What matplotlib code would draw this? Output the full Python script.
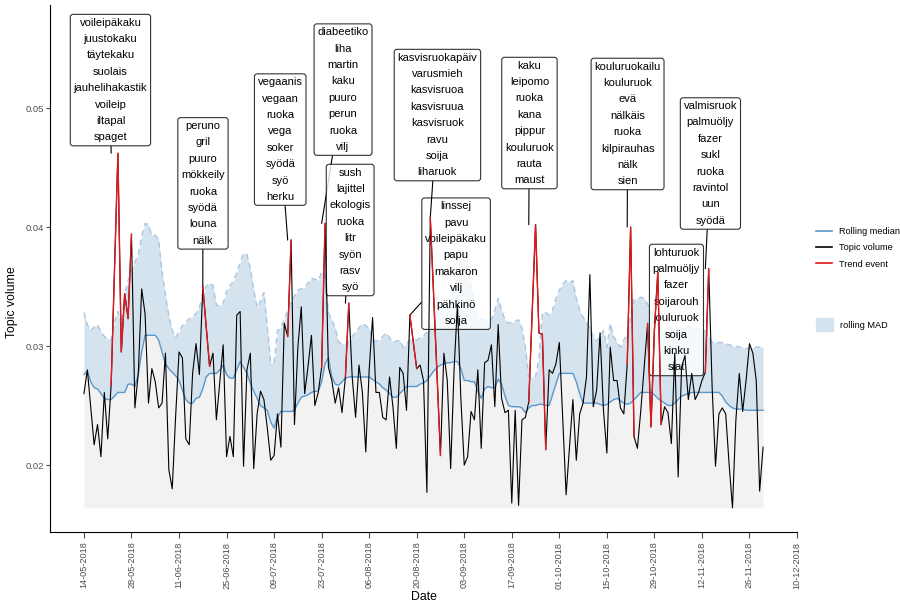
import matplotlib
matplotlib.use("Agg")
import matplotlib.pyplot as plt
import matplotlib.dates as mdates
from matplotlib.lines import Line2D
from matplotlib.patches import Patch
import numpy as np
import pandas as pd

plt.rcParams['font.family'] = ['Liberation Sans', 'DejaVu Sans']

start_date = '2018-05-14'

volume = [
    0.0260, 0.0280, 0.0249, 0.0217, 0.0234, 0.0207, 0.0261, 0.0222, 0.0267, 0.0364,
    0.0462, 0.0295, 0.0344, 0.0323, 0.0394, 0.0248, 0.0277, 0.0348, 0.0327, 0.0252,
    0.0281, 0.0270, 0.0248, 0.0252, 0.0294, 0.0196, 0.0180, 0.0241, 0.0295, 0.0290,
    0.0222, 0.0217, 0.0277, 0.0302, 0.0276, 0.0350, 0.0316, 0.0283, 0.0294, 0.0238,
    0.0269, 0.0301, 0.0207, 0.0224, 0.0207, 0.0326, 0.0329, 0.0199, 0.0280, 0.0294,
    0.0197, 0.0243, 0.0262, 0.0255, 0.0231, 0.0204, 0.0208, 0.0243, 0.0215, 0.0319,
    0.0308, 0.0389, 0.0234, 0.0299, 0.0333, 0.0260, 0.0283, 0.0309, 0.0250, 0.0261,
    0.0282, 0.0403, 0.0282, 0.0271, 0.0252, 0.0265, 0.0244, 0.0274, 0.0336, 0.0274,
    0.0240, 0.0284, 0.0261, 0.0211, 0.0280, 0.0324, 0.0261, 0.0261, 0.0240, 0.0238,
    0.0274, 0.0249, 0.0214, 0.0282, 0.0277, 0.0246, 0.0326, 0.0303, 0.0281, 0.0284,
    0.0271, 0.0177, 0.0408, 0.0342, 0.0275, 0.0208, 0.0294, 0.0271, 0.0197, 0.0280,
    0.0335, 0.0256, 0.0200, 0.0207, 0.0245, 0.0238, 0.0280, 0.0214, 0.0286, 0.0288,
    0.0301, 0.0249, 0.0318, 0.0256, 0.0244, 0.0246, 0.0168, 0.0246, 0.0166, 0.0238,
    0.0240, 0.0253, 0.0328, 0.0402, 0.0311, 0.0310, 0.0213, 0.0280, 0.0277, 0.0285,
    0.0303, 0.0238, 0.0175, 0.0215, 0.0255, 0.0204, 0.0243, 0.0252, 0.0274, 0.0360,
    0.0249, 0.0263, 0.0311, 0.0246, 0.0210, 0.0299, 0.0271, 0.0271, 0.0248, 0.0243,
    0.0285, 0.0400, 0.0224, 0.0214, 0.0246, 0.0283, 0.0319, 0.0232, 0.0313, 0.0362,
    0.0234, 0.0249, 0.0244, 0.0218, 0.0294, 0.0190, 0.0282, 0.0292, 0.0255, 0.0277,
    0.0255, 0.0261, 0.0271, 0.0278, 0.0365, 0.0266, 0.0199, 0.0243, 0.0248, 0.0243,
    0.0201, 0.0164, 0.0238, 0.0277, 0.0245, 0.0271, 0.0302, 0.0294, 0.0271, 0.0178,
    0.0215,
]

rolling_median = [
    0.0276, 0.0279, 0.0270, 0.0265, 0.0264, 0.0260, 0.0256, 0.0255, 0.0255, 0.0258,
    0.0261, 0.0261, 0.0261, 0.0268, 0.0268, 0.0266, 0.0276, 0.0295, 0.0309, 0.0309,
    0.0309, 0.0309, 0.0305, 0.0295, 0.0285, 0.0281, 0.0278, 0.0275, 0.0271, 0.0263,
    0.0255, 0.0252, 0.0252, 0.0256, 0.0257, 0.0264, 0.0274, 0.0277, 0.0277, 0.0277,
    0.0280, 0.0284, 0.0276, 0.0273, 0.0273, 0.0280, 0.0287, 0.0282, 0.0277, 0.0269,
    0.0262, 0.0256, 0.0250, 0.0248, 0.0246, 0.0236, 0.0231, 0.0240, 0.0245, 0.0245,
    0.0245, 0.0245, 0.0246, 0.0252, 0.0257, 0.0258, 0.0259, 0.0261, 0.0262, 0.0262,
    0.0270, 0.0285, 0.0290, 0.0274, 0.0268, 0.0267, 0.0270, 0.0273, 0.0274, 0.0274,
    0.0274, 0.0274, 0.0274, 0.0274, 0.0274, 0.0272, 0.0270, 0.0268, 0.0265, 0.0263,
    0.0260, 0.0257, 0.0257, 0.0260, 0.0263, 0.0266, 0.0266, 0.0266, 0.0266, 0.0268,
    0.0269, 0.0271, 0.0275, 0.0279, 0.0282, 0.0284, 0.0285, 0.0286, 0.0286, 0.0287,
    0.0287, 0.0281, 0.0271, 0.0271, 0.0270, 0.0270, 0.0262, 0.0256, 0.0264, 0.0266,
    0.0265, 0.0265, 0.0272, 0.0268, 0.0258, 0.0250, 0.0249, 0.0249, 0.0249, 0.0248,
    0.0244, 0.0248, 0.0250, 0.0250, 0.0251, 0.0251, 0.0250, 0.0250, 0.0259, 0.0268,
    0.0277, 0.0277, 0.0277, 0.0277, 0.0277, 0.0270, 0.0260, 0.0252, 0.0252, 0.0252,
    0.0252, 0.0252, 0.0251, 0.0250, 0.0251, 0.0253, 0.0255, 0.0256, 0.0254, 0.0252,
    0.0251, 0.0252, 0.0255, 0.0258, 0.0261, 0.0261, 0.0261, 0.0261, 0.0259, 0.0256,
    0.0254, 0.0252, 0.0250, 0.0250, 0.0252, 0.0255, 0.0258, 0.0259, 0.0260, 0.0261,
    0.0261, 0.0261, 0.0261, 0.0261, 0.0261, 0.0261, 0.0261, 0.0261, 0.0258, 0.0253,
    0.0250, 0.0248, 0.0247, 0.0247, 0.0247, 0.0246, 0.0246, 0.0246, 0.0246, 0.0246,
    0.0246,
]

mad_upper = [
    0.0328, 0.0318, 0.0313, 0.0316, 0.0318, 0.0312, 0.0308, 0.0306, 0.0305, 0.0320,
    0.0329, 0.0318, 0.0343, 0.0355, 0.0363, 0.0370, 0.0377, 0.0392, 0.0403, 0.0402,
    0.0393, 0.0393, 0.0390, 0.0362, 0.0343, 0.0325, 0.0313, 0.0307, 0.0312, 0.0317,
    0.0320, 0.0323, 0.0325, 0.0327, 0.0333, 0.0341, 0.0350, 0.0353, 0.0351, 0.0334,
    0.0334, 0.0336, 0.0346, 0.0351, 0.0354, 0.0362, 0.0370, 0.0378, 0.0377, 0.0365,
    0.0347, 0.0332, 0.0338, 0.0345, 0.0316, 0.0286, 0.0286, 0.0313, 0.0316, 0.0322,
    0.0330, 0.0337, 0.0342, 0.0347, 0.0348, 0.0349, 0.0353, 0.0357, 0.0356, 0.0355,
    0.0362, 0.0360, 0.0328, 0.0322, 0.0315, 0.0303, 0.0302, 0.0301, 0.0304, 0.0308,
    0.0312, 0.0315, 0.0319, 0.0317, 0.0315, 0.0305, 0.0304, 0.0305, 0.0308, 0.0311,
    0.0307, 0.0303, 0.0304, 0.0305, 0.0299, 0.0302, 0.0305, 0.0305, 0.0305, 0.0307,
    0.0308, 0.0312, 0.0316, 0.0328, 0.0341, 0.0335, 0.0329, 0.0330, 0.0340, 0.0347,
    0.0360, 0.0372, 0.0380, 0.0370, 0.0350, 0.0333, 0.0324, 0.0323, 0.0322, 0.0322,
    0.0322, 0.0330, 0.0340, 0.0330, 0.0322, 0.0319, 0.0320, 0.0321, 0.0322, 0.0315,
    0.0299, 0.0274, 0.0274, 0.0274, 0.0290, 0.0328, 0.0328, 0.0326, 0.0330, 0.0340,
    0.0347, 0.0352, 0.0355, 0.0353, 0.0355, 0.0340, 0.0330, 0.0324, 0.0320, 0.0315,
    0.0308, 0.0304, 0.0308, 0.0313, 0.0299, 0.0319, 0.0308, 0.0303, 0.0299, 0.0305,
    0.0310, 0.0325, 0.0339, 0.0340, 0.0341, 0.0340, 0.0335, 0.0330, 0.0325, 0.0318,
    0.0313, 0.0313, 0.0315, 0.0315, 0.0315, 0.0315, 0.0315, 0.0316, 0.0316, 0.0316,
    0.0315, 0.0315, 0.0314, 0.0313, 0.0308, 0.0303, 0.0303, 0.0303, 0.0303, 0.0302,
    0.0301, 0.0300, 0.0300, 0.0299, 0.0299, 0.0298, 0.0298, 0.0299, 0.0299, 0.0299,
    0.0299,
]

# trend events: first and last day index (inclusive)
event_start = [8, 35, 60, 70, 77, 96, 102, 131, 160, 166, 183]
event_end = [14, 37, 61, 71, 78, 98, 105, 136, 162, 170, 184]

event_words = [
    ['voileipäkaku', 'juustokaku', 'täytekaku', 'suolais', 'jauhelihakastik', 'voileip', 'iltapal', 'spaget'],
    ['peruno', 'gril', 'puuro', 'mökkeily', 'ruoka', 'syödä', 'louna', 'nälk'],
    ['vegaanis', 'vegaan', 'ruoka', 'vega', 'soker', 'syödä', 'syö', 'herku'],
    ['diabeetiko', 'liha', 'martin', 'kaku', 'puuro', 'perun', 'ruoka', 'vilj'],
    ['sush', 'lajittel', 'ekologis', 'ruoka', 'litr', 'syön', 'rasv', 'syö'],
    ['linssej', 'pavu', 'voileipäkaku', 'papu', 'makaron', 'vilj', 'pähkinö', 'soija'],
    ['kasvisruokapäiv', 'varusmieh', 'kasvisruoa', 'kasvisruua', 'kasvisruok', 'ravu', 'soija', 'liharuok'],
    ['kaku', 'leipomo', 'ruoka', 'kana', 'pippur', 'kouluruok', 'rauta', 'maust'],
    ['kouluruokailu', 'kouluruok', 'evä', 'nälkäis', 'ruoka', 'kilpirauhas', 'nälk', 'sien'],
    ['lohturuok', 'palmuöljy', 'fazer', 'soijarouh', 'jouluruok', 'soija', 'kinku', 'siat'],
    ['valmisruok', 'palmuöljy', 'fazer', 'sukl', 'ruoka', 'ravintol', 'uun', 'syödä'],
]

# label box centres (days after start, value) - layout only
label_x = [7.8, 35.05, 57.8, 76.3, 78.4, 109.6, 104.1, 131.2, 160.1, 174.5, 184.5]
label_y = [0.05235, 0.04367, 0.04735, 0.05155, 0.03975, 0.03692, 0.04941, 0.04874, 0.04866, 0.03303, 0.04534]
label_pointer = [True, True, True, True, True, True, True, True, True, False, True]

dates = pd.date_range(start_date, periods=len(volume), freq='D')
vol = np.array(volume)
med = np.array(rolling_median)
upp = np.array(mad_upper)

blue = '#5b97c9'
red = '#e0181b'
band = '#d5e3ef'

fig = plt.figure(figsize=(9, 6.04), dpi=100)
ax = fig.add_axes([50 / 900, 1 - 532 / 604, 747 / 900, 527 / 604])

ax.fill_between(dates, vol.min(), med, color='#f2f2f2', lw=0, zorder=1)
ax.fill_between(dates, med, upp, color=band, lw=0, zorder=1)
ax.plot(dates, upp, color='#a8c5e2', lw=1.0, ls=(0, (4, 3)), zorder=2)
ax.plot(dates, med, color=blue, lw=1.0, zorder=3)
ax.plot(dates, vol, color='black', lw=0.8, zorder=5)
for s, e in zip(event_start, event_end):
    ax.plot(dates[s:e + 1], vol[s:e + 1], color=red, lw=1.0, zorder=6)

t0 = pd.Timestamp(start_date)
for s, e, words, lx, ly, ptr in zip(event_start, event_end, event_words, label_x, label_y, label_pointer):
    peak = vol[s:e + 1].max()
    arrow = dict(arrowstyle='-', color='black', lw=0.8, shrinkA=0, shrinkB=0) if ptr else None
    ax.annotate('\n'.join(words), xy=(dates[s], peak),
                xytext=(t0 + pd.Timedelta(days=lx), ly),
                ha='center', va='center', fontsize=8, linespacing=1.8,
                bbox=dict(boxstyle='round,pad=0.3,rounding_size=0.25', fc='white', ec='black', lw=0.8, alpha=0.8),
                arrowprops=arrow, zorder=4)

ax.set_xlim(pd.Timestamp('2018-05-04'), pd.Timestamp('2018-12-10'))
ax.set_ylim(0.01437, 0.05866)
ax.set_xticks(pd.date_range('2018-05-14', '2018-12-10', freq='14D'))
ax.xaxis.set_major_formatter(mdates.DateFormatter('%d-%m-%Y'))
ax.set_yticks([0.02, 0.03, 0.04, 0.05])
ax.set_yticklabels(['0.02', '0.03', '0.04', '0.05'])
ax.tick_params(axis='x', rotation=90, labelsize=6.6, colors='#4d4d4d', length=4, width=0.8, pad=3)
ax.tick_params(axis='y', labelsize=6.8, colors='#4d4d4d', length=3, width=0.8, pad=1)
for side in ['top', 'right']:
    ax.spines[side].set_visible(False)
for side in ['left', 'bottom']:
    ax.spines[side].set_linewidth(0.8)
ax.set_xlabel('Date', fontsize=8.8, labelpad=2)
ax.set_ylabel('Topic volume', fontsize=8.8)
ax.yaxis.set_label_coords(-0.043, 0.436)

h1 = [Line2D([], [], color=blue, lw=1.2),
      Line2D([], [], color='black', lw=1.2),
      Line2D([], [], color=red, lw=1.2)]
fig.legend(h1, ['Rolling median', 'Topic volume', 'Trend event'],
           loc='upper left', bbox_to_anchor=(816 / 900, 1 - 227 / 604),
           borderaxespad=0, borderpad=0, frameon=False, fontsize=6.6,
           handlelength=1.75, handletextpad=0.8, labelspacing=0.8)
fig.legend([Patch(color=band)], ['rolling MAD'],
           loc='upper left', bbox_to_anchor=(816 / 900, 1 - 318 / 604),
           borderaxespad=0, borderpad=0, frameon=False, fontsize=6.6,
           handlelength=1.85, handleheight=1.85, handletextpad=0.8)

fig.savefig('out.png', dpi=100)
